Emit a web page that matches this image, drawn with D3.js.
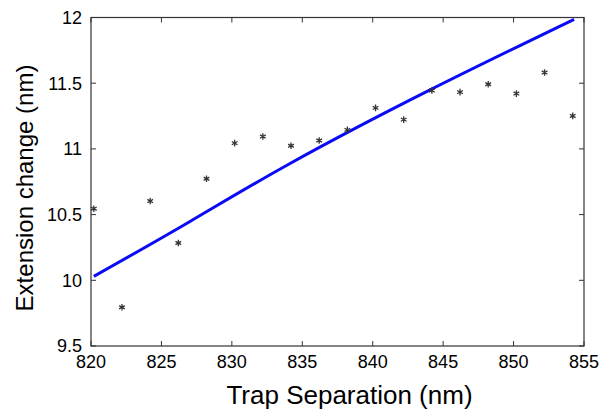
<!DOCTYPE html>
<html><head><meta charset="utf-8">
<script src="https://cdn.jsdelivr.net/npm/d3@7"></script>
<style>body{margin:0;background:#fff}svg{display:block}text{font-family:"Liberation Sans",Arial,sans-serif;fill:#000}</style>
</head><body><svg id="c" width="602" height="417"></svg>
<script>
const sepX = [820.2,822.2,824.2,826.2,828.2,830.2,832.2,834.2,836.2,838.2,840.2,842.2,844.2,846.2,848.2,850.2,852.2,854.2];
const extY = [10.545,9.795,10.603,10.284,10.773,11.044,11.094,11.024,11.064,11.145,11.312,11.223,11.444,11.432,11.492,11.421,11.581,11.251];
const fitX = [820.2,827.0,834.1,844.0,854.3];
const fitY = [10.03,10.446,10.887,11.445,11.986];
const xTicks = [820,825,830,835,840,845,850,855];
const yTicks = [9.5,10,10.5,11,11.5,12];

const svg = d3.select("#c");
const L=91,R=584,T=17.5,B=346;
const x = d3.scaleLinear().domain([820,855]).range([L,R]);
const y = d3.scaleLinear().domain([9.5,12]).range([B,T]);
const ax = "#333";
const g = svg.append("g");
// frame
g.append("rect").attr("x",L).attr("y",T).attr("width",R-L).attr("height",B-T).attr("fill","none").attr("stroke",ax).attr("stroke-width",1.2);
const tl=5;
xTicks.forEach(v=>{
  g.append("line").attr("x1",x(v)).attr("x2",x(v)).attr("y1",B).attr("y2",B-tl).attr("stroke",ax);
  g.append("line").attr("x1",x(v)).attr("x2",x(v)).attr("y1",T).attr("y2",T+tl).attr("stroke",ax);
  g.append("text").attr("x",x(v)).attr("y",368).attr("text-anchor","middle").attr("font-size",18).text(d3.format("d")(v));
});
yTicks.forEach(v=>{
  g.append("line").attr("x1",L).attr("x2",L+tl).attr("y1",y(v)).attr("y2",y(v)).attr("stroke",ax);
  g.append("line").attr("x1",R).attr("x2",R-tl).attr("y1",y(v)).attr("y2",y(v)).attr("stroke",ax);
  g.append("text").attr("x",82).attr("y",y(v)+6.3).attr("text-anchor","end").attr("font-size",18).text(String(v));
});
// fit line
const fit = fitX.map((v,i)=>[v,fitY[i]]);
g.append("path").datum(fit).attr("fill","none").attr("stroke","#0a0af5").attr("stroke-width",3)
 .attr("d",d3.line().x(d=>x(d[0])).y(d=>y(d[1])).curve(d3.curveNatural));
// points
const sym = d3.symbol().type(d3.symbolAsterisk).size(30);
sepX.forEach((v,i)=>{
  g.append("path").attr("d",sym()).attr("transform",`translate(${x(v)},${y(extY[i])})`)
   .attr("fill","none").attr("stroke","#333").attr("stroke-width",1.3);
});
// titles
g.append("text").attr("x",(L+R)/2+12).attr("y",404).attr("text-anchor","middle").attr("font-size",26).text("Trap Separation (nm)");
g.append("text").attr("transform","translate(33,188) rotate(-90)").attr("text-anchor","middle").attr("font-size",24).text("Extension change (nm)");
</script></body></html>
